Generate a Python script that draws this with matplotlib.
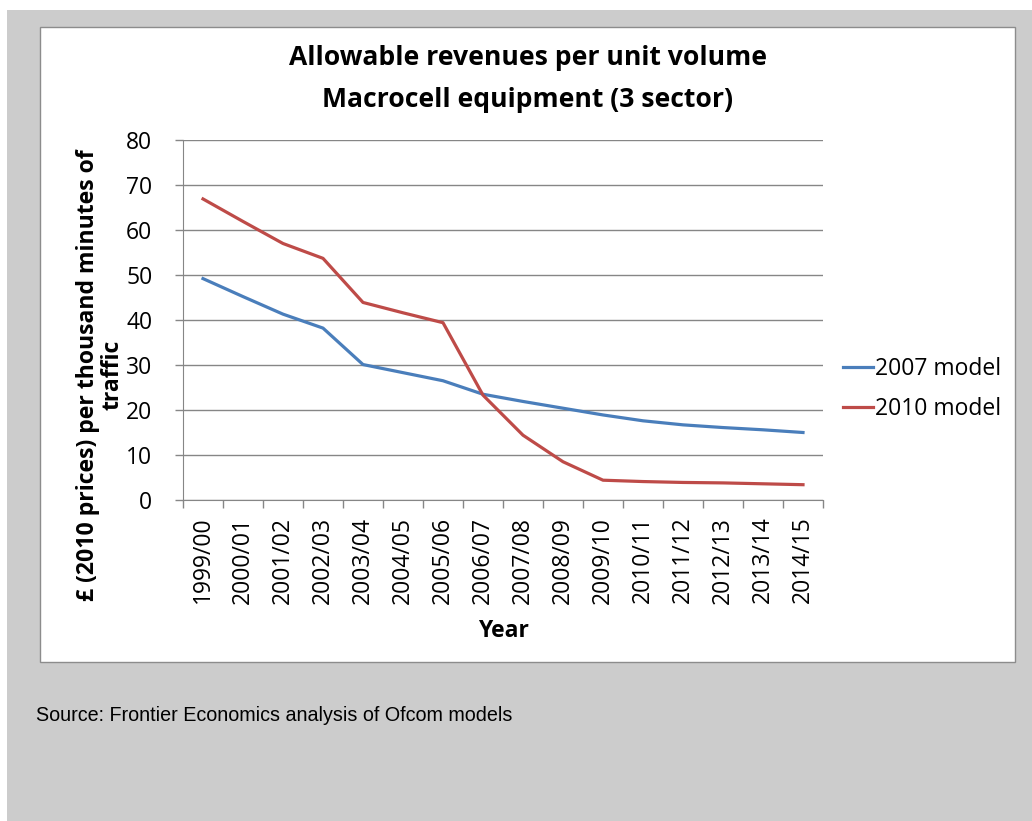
import matplotlib
matplotlib.use("Agg")
import matplotlib.pyplot as plt
from matplotlib.patches import Rectangle
import numpy as np

years = ["1999/00", "2000/01", "2001/02", "2002/03", "2003/04", "2004/05", "2005/06",
         "2006/07", "2007/08", "2008/09", "2009/10", "2010/11", "2011/12", "2012/13",
         "2013/14", "2014/15"]
model_2007 = [49.2, 45.2, 41.3, 38.2, 30.1, 28.3, 26.5, 23.5, 21.9, 20.4, 18.9, 17.6,
              16.7, 16.1, 15.6, 15.0]
model_2010 = [66.9, 61.9, 57.0, 53.7, 43.9, 41.6, 39.4, 23.3, 14.4, 8.5, 4.4, 4.1,
              3.9, 3.8, 3.6, 3.4]
yticks = [0, 10, 20, 30, 40, 50, 60, 70, 80]

W, H = 1032, 821
FONT = "Open Sans"
FS = 16.5
fig = plt.figure(figsize=(W / 100, H / 100), dpi=100)
fig.patch.set_facecolor("white")

def px_rect(x0, y0, x1, y1, **kw):
    return Rectangle((x0 / W, 1 - y1 / H), (x1 - x0) / W, (y1 - y0) / H,
                     transform=fig.transFigure, **kw)

fig.patches.append(px_rect(7, 10, W, H, facecolor="#cccccc", edgecolor="none", zorder=-3))
fig.patches.append(px_rect(40, 27, 1015, 662, facecolor="white", edgecolor="#8c8c8c",
                           linewidth=1, zorder=-2))

ax = fig.add_axes([183 / W, 1 - 500 / H, (823 - 183) / W, (500 - 140) / H])
ax.set_facecolor("none")
x = np.arange(len(years))
ax.plot(x, model_2007, color="#4a7ebb", linewidth=2.3, label="2007 model", zorder=3)
ax.plot(x, model_2010, color="#be4b48", linewidth=2.3, label="2010 model", zorder=3)

ax.set_xlim(-0.5, len(years) - 0.5)
ax.set_ylim(0, 80)
ax.set_yticks(yticks)
ax.set_yticklabels([str(v) for v in yticks], fontsize=FS, family=FONT)
ax.yaxis.grid(True, color="#868686", linewidth=1)
ax.set_axisbelow(True)

ax.set_xticks(np.arange(-0.5, len(years), 1.0))
ax.set_xticklabels([])
ax.set_xticks(x, minor=True)
ax.set_xticklabels(years, minor=True, rotation=90, fontsize=FS, family=FONT, va="top")
ax.tick_params(axis="x", which="major", length=6, color="#868686", width=1)
ax.tick_params(axis="x", which="minor", length=0, pad=12)
ax.tick_params(axis="y", length=6, color="#868686", width=1, pad=16)

for s in ["top", "right"]:
    ax.spines[s].set_visible(False)
ax.spines["left"].set_color("#868686")
ax.spines["bottom"].set_color("#868686")

fig.text(503 / W, 1 - 631 / H, "Year", ha="center", va="center", fontsize=FS,
         fontweight="bold", family=FONT)
fig.text(100 / W, 1 - 375 / H, "£ (2010 prices) per thousand minutes of\ntraffic",
         rotation=90, ha="center", va="center", fontsize=16.6, fontweight="bold",
         family=FONT, linespacing=1.02)

fig.text(528 / W, 1 - 58 / H, "Allowable revenues per unit volume", ha="center",
         va="center", fontsize=19.1, fontweight="bold", family=FONT)
fig.text(528 / W, 1 - 100 / H, "Macrocell equipment (3 sector)", ha="center",
         va="center", fontsize=19.1, fontweight="bold", family=FONT)

leg = fig.legend(loc="center left", bbox_to_anchor=(843 / W, 1 - 389 / H), frameon=False,
                 prop={"family": FONT, "size": FS}, handlelength=1.3, handletextpad=0.1,
                 labelspacing=0.7, borderpad=0, borderaxespad=0)

fig.text(36 / W, 1 - 715 / H, "Source: Frontier Economics analysis of Ofcom models",
         ha="left", va="center", fontsize=14.2, family="Liberation Sans")

fig.savefig("out.png", dpi=100)
